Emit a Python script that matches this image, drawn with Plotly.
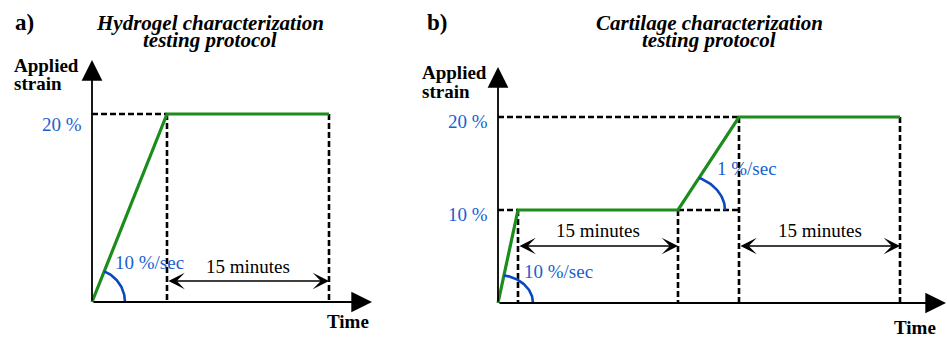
import numpy as np
import plotly.graph_objects as go

W, H = 947, 337

# ---------------- data (schematic protocol) ----------------
a_time = [0.0, 1.0, 3.16]                 # schematic time units (not to scale)
a_strain = [0, 20, 20]                    # applied strain, %
b_time = [0.0, 1.0, 9.0, 12.05, 20.1]     # schematic time units (not to scale)
b_strain = [0, 10, 10, 20, 20]            # applied strain, %

a_levels = [20]
a_level_labels = ["20 %"]
b_levels = [10, 20]
b_level_labels = ["10 %", "20 %"]
a_rate_labels = ["10 %/sec"]
b_rate_labels = ["10 %/sec", "1 %/sec"]
hold_label = "15 minutes"
panel_tags = ["a)", "b)"]
panel_titles = [["Hydrogel characterization", "testing protocol"],
                ["Cartilage characterization", "testing protocol"]]
y_title = ["Applied", "strain"]
x_title = "Time"

# ---------------- layout geometry (pixels) ----------------
FONT = "Liberation Serif"
GREEN = "#1c8c1c"
BLUE_TXT = "#1a5fd0"
BLUE_ARC = "#0a48c0"

geo = {
    "a": dict(x0=92, y0=302, sx=75.0, sy=9.4, dom=(0.0, 0.45), xr="x", yr="y"),
    "b": dict(x0=498, y0=303, sx=20.0, sy=9.3, dom=(0.45, 1.0), xr="x2", yr="y2"),
}


def d2px(g, t, s):
    return g["x0"] + t * g["sx"], g["y0"] - s * g["sy"]


def px2d(g, px, py):
    return (px - g["x0"]) / g["sx"], (g["y0"] - py) / g["sy"]


def arc(g, p0, p1, rx, ry, n=40):
    cx, cy = d2px(g, *p0)
    qx, qy = d2px(g, *p1)
    th = np.arctan2(cy - qy, qx - cx)
    ph_end = np.arctan(np.tan(th) * rx / ry)
    ph = np.linspace(0, ph_end, n)
    px = cx + rx * np.cos(ph)
    py = cy - ry * np.sin(ph)
    t, s = px2d(g, px, py)
    return list(t), list(s)


fig = go.Figure()


def add_line(g, xs, ys, color, width, dash=None):
    fig.add_trace(go.Scatter(
        x=xs, y=ys, mode="lines", xaxis=g["xr"], yaxis=g["yr"],
        line=dict(color=color, width=width, dash=dash),
        hoverinfo="skip", showlegend=False, connectgaps=False))


DASH = "6px,3px"

# ---- panel a guides ----
ga = geo["a"]
xs, ys = [], []
xs += [0, a_time[1], None]; ys += [a_strain[1], a_strain[1], None]
for t, s in [(a_time[1], a_strain[1]), (a_time[2], a_strain[2])]:
    xs += [t, t, None]; ys += [s, 0, None]
add_line(ga, xs, ys, "black", 2.6, DASH)

# ---- panel b guides ----
gb = geo["b"]
xs, ys = [], []
xs += [0, b_time[3], None]; ys += [b_strain[3], b_strain[3], None]
xs += [0, b_time[1], None]; ys += [b_strain[1], b_strain[1], None]
xs += [b_time[2], b_time[3], None]; ys += [b_strain[2], b_strain[2], None]
for i in [1, 2, 3, 4]:
    xs += [b_time[i], b_time[i], None]; ys += [b_strain[i], 0, None]
add_line(gb, xs, ys, "black", 2.6, DASH)

# ---- protocol curves ----
add_line(ga, a_time, a_strain, GREEN, 3.2)
add_line(gb, b_time, b_strain, GREEN, 3.2)

# ---- rate arcs ----
t, s = arc(ga, (a_time[0], a_strain[0]), (a_time[1], a_strain[1]), 33, 33)
add_line(ga, t, s, BLUE_ARC, 2.6)
t, s = arc(gb, (b_time[0], b_strain[0]), (b_time[1], b_strain[1]), 35, 28)
add_line(gb, t, s, BLUE_ARC, 2.6)
t, s = arc(gb, (b_time[2], b_strain[2]), (b_time[3], b_strain[3]), 47, 36)
add_line(gb, t, s, BLUE_ARC, 2.6)

annotations = []


def txt(px, py, text, size, color="black", xanchor="center", yanchor="middle"):
    annotations.append(dict(
        x=px / W, y=1 - py / H, xref="paper", yref="paper", text=text,
        showarrow=False, xanchor=xanchor, yanchor=yanchor,
        font=dict(family=FONT, size=size, color=color)))


def arrow(g, tip, tail, head=2, size=2.0, width=1.8, both=False):
    d = dict(x=tip[0], y=tip[1], ax=tail[0], ay=tail[1],
             xref=g["xr"], yref=g["yr"], axref=g["xr"], ayref=g["yr"],
             text="", showarrow=True, arrowhead=head, arrowsize=size,
             arrowwidth=width, arrowcolor="black", standoff=0, startstandoff=0)
    if both:
        d.update(arrowside="end+start", startarrowhead=head, startarrowsize=size)
    annotations.append(d)


# axes with arrows
arrow(ga, px2d(ga, 372, ga["y0"]), (0, 0), size=2.3)
arrow(ga, px2d(ga, ga["x0"], 60), (0, 0), size=2.3)
arrow(gb, px2d(gb, 946, gb["y0"]), (0, 0), size=2.3)
arrow(gb, px2d(gb, gb["x0"], 67), (0, 0), size=2.3)

# hold-duration double arrows
ya = px2d(ga, 0, 281)[1]
arrow(ga, (a_time[2], ya), (a_time[1], ya), head=3, size=1.7, width=1.6, both=True)
yb = px2d(gb, 0, 246)[1]
arrow(gb, (b_time[2], yb), (b_time[1], yb), head=3, size=1.7, width=1.6, both=True)
arrow(gb, (b_time[4], yb), (b_time[3], yb), head=3, size=1.7, width=1.6, both=True)

# panel tags and titles
txt(24, 22, "<b>" + panel_tags[0] + "</b>", 23)
txt(437, 22, "<b>" + panel_tags[1] + "</b>", 23)
txt(210, 23, "<b><i>" + panel_titles[0][0] + "</i></b>", 21)
txt(210, 40, "<b><i>" + panel_titles[0][1] + "</i></b>", 21)
txt(709, 23, "<b><i>" + panel_titles[1][0] + "</i></b>", 21)
txt(709, 40, "<b><i>" + panel_titles[1][1] + "</i></b>", 21)

# axis titles
txt(12, 65, "<b>" + y_title[0] + "</b>", 19, xanchor="left")
txt(12, 84, "<b>" + y_title[1] + "</b>", 19, xanchor="left")
txt(420, 72, "<b>" + y_title[0] + "</b>", 19, xanchor="left")
txt(420, 91, "<b>" + y_title[1] + "</b>", 19, xanchor="left")
txt(348, 321, "<b>" + x_title + "</b>", 19)
txt(915, 327, "<b>" + x_title + "</b>", 19)

# strain level labels
for lv, lab in zip(a_levels, a_level_labels):
    _, py = d2px(ga, 0, lv)
    txt(84, py + 10, lab, 19, BLUE_TXT, xanchor="right")
for lv, lab in zip(b_levels, b_level_labels):
    _, py = d2px(gb, 0, lv)
    txt(490, py + 4, lab, 19, BLUE_TXT, xanchor="right")

# rate labels
txt(113, 262, a_rate_labels[0], 19, BLUE_TXT, xanchor="left")
txt(522, 271, b_rate_labels[0], 19, BLUE_TXT, xanchor="left")
txt(715, 168, b_rate_labels[1], 19, BLUE_TXT, xanchor="left")

# hold labels
txt((d2px(ga, a_time[1], 0)[0] + d2px(ga, a_time[2], 0)[0]) / 2, 266, hold_label, 19)
txt((d2px(gb, b_time[1], 0)[0] + d2px(gb, b_time[2], 0)[0]) / 2, 230, hold_label, 19)
txt((d2px(gb, b_time[3], 0)[0] + d2px(gb, b_time[4], 0)[0]) / 2, 230, hold_label, 19)

layout_axes = {}
for key, g in geo.items():
    xn = "xaxis" if g["xr"] == "x" else "xaxis2"
    yn = "yaxis" if g["yr"] == "y" else "yaxis2"
    xmin = (g["dom"][0] * W - g["x0"]) / g["sx"]
    xmax = (g["dom"][1] * W - g["x0"]) / g["sx"]
    ymin = (g["y0"] - H) / g["sy"]
    ymax = g["y0"] / g["sy"]
    layout_axes[xn] = dict(domain=list(g["dom"]), range=[xmin, xmax], visible=False,
                           fixedrange=True)
    layout_axes[yn] = dict(domain=[0, 1], range=[ymin, ymax], visible=False,
                           fixedrange=True)
layout_axes["yaxis"]["anchor"] = "x"
layout_axes["xaxis"]["anchor"] = "y"
layout_axes["yaxis2"]["anchor"] = "x2"
layout_axes["xaxis2"]["anchor"] = "y2"

fig.update_layout(
    width=W, height=H, margin=dict(l=0, r=0, t=0, b=0),
    paper_bgcolor="white", plot_bgcolor="white",
    showlegend=False, annotations=annotations, **layout_axes)

fig.write_html("out.html", config={"displayModeBar": False},
               post_script="document.body.style.margin='0';document.body.style.overflow='hidden';")
